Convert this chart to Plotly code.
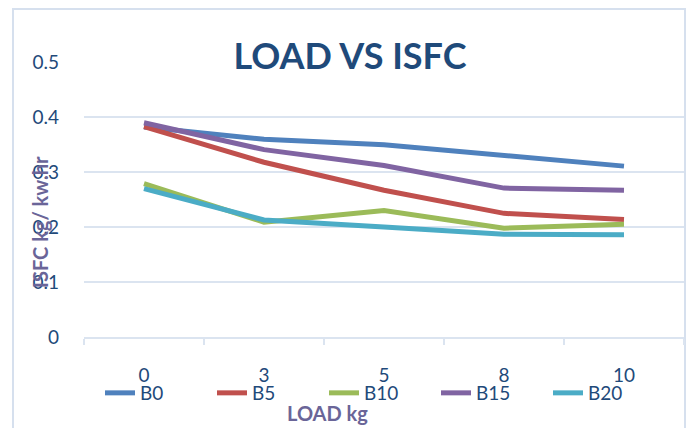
import plotly.graph_objects as go

loads = ["0", "3", "5", "8", "10"]
series_names = ["B0", "B5", "B10", "B15", "B20"]
b0 = [0.382, 0.360, 0.350, 0.331, 0.311]
b5 = [0.383, 0.318, 0.267, 0.225, 0.214]
b10 = [0.279, 0.209, 0.230, 0.198, 0.205]
b15 = [0.390, 0.341, 0.312, 0.271, 0.267]
b20 = [0.270, 0.213, 0.200, 0.187, 0.186]
colors = ["#4F81BD", "#C0504D", "#9BBB59", "#8064A2", "#4BACC6"]

W, H = 693, 428
L, R, T, B = 84, 9, 62, 91
pw = W - L - R
ph = H - T - B

fig = go.Figure()
for name, vals, c in zip(series_names, [b0, b5, b10, b15, b20], colors):
    fig.add_trace(go.Scatter(x=loads, y=vals, mode="lines", name=name,
                             line=dict(color=c, width=5)))

tick_col = "#1f4a7a"
ttl_col = "#6a6598"
grid_col = "#dbe4f0"
font = "Lato, 'Open Sans', sans-serif"

def px_x(px):
    return (px - L) / pw

def px_y(py):
    return (H - B - py) / ph

fig.update_layout(
    width=W, height=H,
    margin=dict(l=L, r=R, t=T, b=B),
    paper_bgcolor="white", plot_bgcolor="white",
    font=dict(family=font, color=tick_col, size=18),
    title=dict(text="LOAD VS ISFC", x=350 / W, xanchor="center",
               y=1 - 56 / H, yanchor="middle", yref="container",
               font=dict(size=36, color=tick_col, weight=700, family=font)),
    xaxis=dict(type="category", categoryorder="array", categoryarray=loads,
               showgrid=False, showline=True, linecolor=grid_col, linewidth=1.5,
               ticks="outside", tickson="boundaries", ticklen=6, tickcolor=grid_col,
               tickwidth=1.5, ticklabelstandoff=20,
               tickfont=dict(size=19, color=tick_col), range=[-0.5, 4.5]),
    yaxis=dict(range=[0, 0.5005], tickvals=[0, 0.1, 0.2, 0.3, 0.4, 0.5],
               ticktext=["0", "0.1", "0.2", "0.3", "0.4", "0.5"],
               showgrid=True, gridcolor=grid_col, gridwidth=1.5, zeroline=False,
               showline=False, ticks="", ticklabelstandoff=24,
               tickfont=dict(size=19, color=tick_col)),
    showlegend=True,
    legend=dict(orientation="h", x=px_x(100), xanchor="left", y=px_y(393),
                yanchor="middle", font=dict(size=19, color=tick_col),
                entrywidth=67, entrywidthmode="pixels", bgcolor="rgba(0,0,0,0)",
                tracegroupgap=0, itemwidth=30),
    annotations=[
        dict(text="ISFC kg/ kw.hr", xref="paper", yref="paper",
             x=px_x(40), y=px_y(222), xanchor="center", yanchor="middle",
             textangle=-90, showarrow=False,
             font=dict(size=20, color=ttl_col, weight=700, family=font)),
        dict(text="LOAD kg", xref="paper", yref="paper",
             x=px_x(327), y=px_y(413), xanchor="center", yanchor="middle",
             showarrow=False,
             font=dict(size=20, color=ttl_col, weight=700, family=font)),
    ],
    shapes=[dict(type="rect", xref="paper", yref="paper",
                 x0=px_x(13), x1=px_x(685), y0=px_y(440), y1=px_y(9),
                 line=dict(color="#d6e0ee", width=2), layer="below")],
)

fig.write_html("out.html")
